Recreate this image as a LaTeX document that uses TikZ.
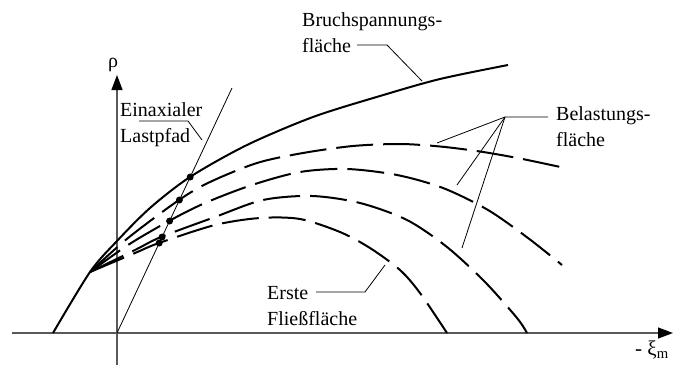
\documentclass[tikz,border=0pt]{standalone}
\usepackage{fontspec}
\setmainfont{Liberation Serif}
\usetikzlibrary{arrows.meta}
\begin{document}
\begin{tikzpicture}[x=1pt,y=-1pt,
  axis/.style={draw=black!65, line width=1.2pt},
  tip/.style={-{Triangle[length=15pt,width=11pt,color=black]}},
  surf/.style={line width=2pt, line cap=butt},
  dsurf/.style={surf, dash pattern=on 37pt off 10pt},
  leader/.style={line width=0.8pt},
  lbl/.style={font=\fontsize{20}{26}\selectfont, inner sep=0pt, align=left, anchor=base west},
  dot/.style={circle, fill, inner sep=0pt, minimum size=7pt}]
\useasboundingbox (0,0) rectangle (673,367);
% axes
\coordinate (O) at (117,333);
\coordinate (xs) at (12,333);
\coordinate (xe) at (673,333);
\coordinate (ys) at (117,365);
\coordinate (ye) at (117,75);
\draw[axis,tip] (xs) -- (xe);
\draw[axis,tip] (ys) -- (ye);
\node[lbl,anchor=base] (rho) at (113,67) {ρ};
\node[lbl,anchor=base,font=\fontsize{21}{26}\selectfont] (xi) at (652,355) {- ξ\textsubscript{m}};
% failure surface
\draw[surf] plot[smooth] coordinates {(53,333) (90,272) (117,241) (150,208) (190,177) (247,145) (313,117) (380,96) (440,79) (508,65)};
% loading surfaces
\draw[dsurf] plot[smooth] coordinates {(90,272) (128,238) (179,200) (210,182) (257,163) (303,153) (353,146) (400,144) (440,146.5) (480,151.5) (520,158.5) (565,168)};
\draw[dsurf] plot[smooth] coordinates {(90,272) (128,245) (169,221) (205,203) (252,185) (300,172) (347,169) (397,175) (443,188) (488,210) (528,238) (562,265)};
\draw[dsurf] plot[smooth] coordinates {(90,272) (135,250) (161,237) (215,217) (263,200) (312,196) (360,203) (407,220) (447,247) (485,282) (517,318) (527,333)};
\draw[dsurf] plot[smooth] coordinates {(90,272) (135,253) (159,243) (215,225) (260,218) (300,219) (340,232) (370,248) (400,270) (420,293) (447,333)};
% uniaxial load path
\coordinate (lp) at (232,88);
\draw[leader] (O) -- (lp);
\node[dot] (d0) at (190.2,177) {};
\node[dot] (d1) at (179.4,200) {};
\node[dot] (d2) at (169.6,221) {};
\node[dot] (d3) at (162.1,237) {};
\node[dot] (d4) at (159.2,243) {};
% labels (anchor = baseline of the last line)
\node[lbl] (bruch) at (302,52) {Bruchspannungs-\\fläche};
\node[lbl] (bel) at (556,146) {Belastungs-\\fläche};
\node[lbl] (ein) at (120,142) {Einaxialer\\Lastpfad};
\node[lbl] (erste) at (267,325) {Erste\\Fließfläche};
% leaders
\coordinate (bA) at (357,45); \coordinate (bB) at (387,45); \coordinate (bC) at (422,81);
\draw[leader] (bA) -- (bB) -- (bC);
\coordinate (lA) at (548,117); \coordinate (lB) at (505,117);
\coordinate (l1) at (437,143); \coordinate (l2) at (457,185); \coordinate (l3) at (462,248);
\draw[leader] (lA) -- (lB) -- (l1);
\draw[leader] (lB) -- (l2);
\draw[leader] (lB) -- (l3);
\coordinate (eA) at (139,121); \coordinate (eB) at (188,121); \coordinate (eC) at (202,140);
\draw[leader] (eA) -- (eB) -- (eC);
\coordinate (fA) at (316,292); \coordinate (fB) at (365,292); \coordinate (fC) at (385,265);
\draw[leader] (fA) -- (fB) -- (fC);
\end{tikzpicture}
\end{document}
